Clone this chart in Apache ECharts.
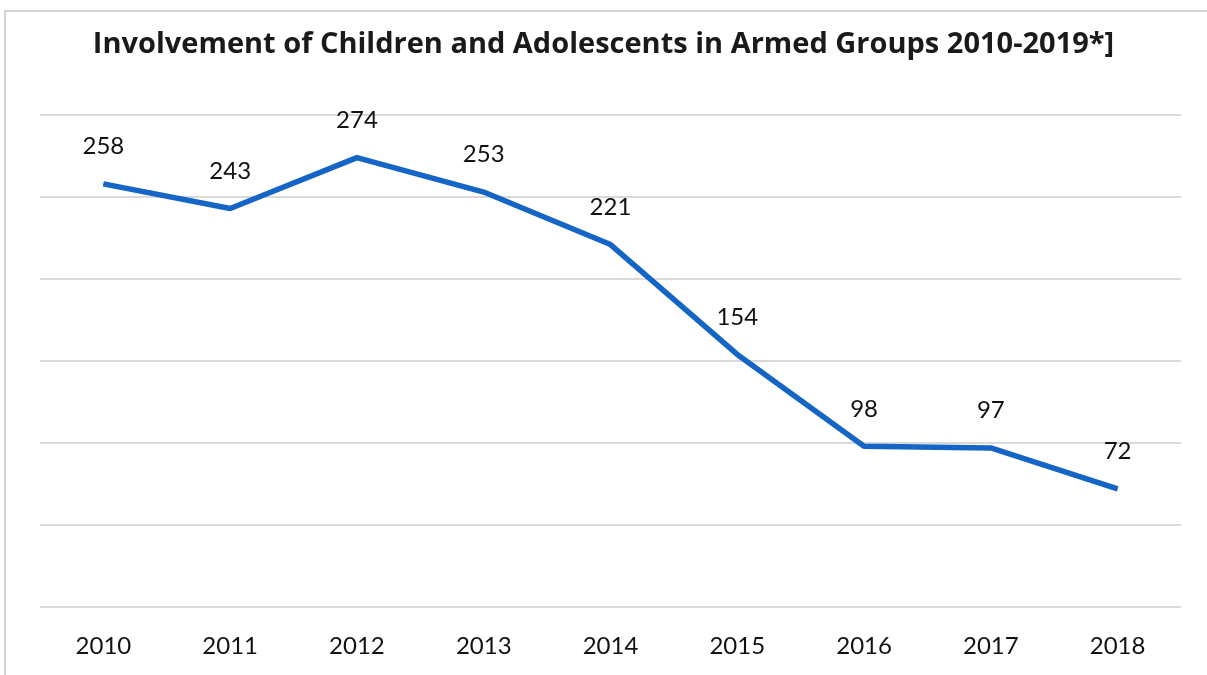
<!DOCTYPE html>
<html>
<head>
<meta charset="utf-8">
<script src="https://cdn.jsdelivr.net/npm/echarts@6/dist/echarts.min.js"></script>
<style>
  html, body { margin: 0; padding: 0; background: #fff; }
  #chart { width: 1207px; height: 675px; }
</style>
</head>
<body>
<div id="chart"></div>
<script>
const titleText = 'Involvement of Children and Adolescents in Armed Groups 2010-2019*]';
const years = ['2010', '2011', '2012', '2013', '2014', '2015', '2016', '2017', '2018'];
const values = [258, 243, 274, 253, 221, 154, 98, 97, 72];
const yMin = 0, yMax = 300, yStep = 50;

const chart = echarts.init(document.getElementById('chart'));
chart.setOption({
  backgroundColor: '#ffffff',
  animation: false,
  graphic: [{
    type: 'rect',
    shape: { x: 5, y: 11, width: 1220, height: 700 },
    style: { fill: 'none', stroke: '#d4d4d4', lineWidth: 2 },
    silent: true
  }],
  title: {
    text: titleText,
    left: 'center',
    top: 25,
    textStyle: { fontFamily: 'Open Sans', fontWeight: 'bold', fontSize: 29, color: '#1a1a1a' }
  },
  grid: { left: 40, right: 26, top: 115, bottom: 68, containLabel: false },
  xAxis: {
    type: 'category',
    data: years,
    boundaryGap: true,
    axisLine: { show: false },
    axisTick: { show: false },
    axisLabel: { margin: 27, fontFamily: 'Lato', fontSize: 24, color: '#111111' }
  },
  yAxis: {
    type: 'value',
    min: yMin, max: yMax, interval: yStep,
    axisLabel: { show: false },
    axisLine: { show: false },
    axisTick: { show: false },
    splitLine: { lineStyle: { color: '#d9d9d9', width: 2 } }
  },
  series: [{
    type: 'line',
    data: values,
    symbol: 'circle',
    symbolSize: 1,
    showSymbol: true,
    itemStyle: { color: '#1565c6' },
    lineStyle: { color: '#1565c6', width: 5.5 },
    label: {
      show: true,
      position: 'top',
      distance: 25,
      fontFamily: 'Lato',
      fontSize: 24,
      color: '#111111'
    }
  }]
});
</script>
</body>
</html>
